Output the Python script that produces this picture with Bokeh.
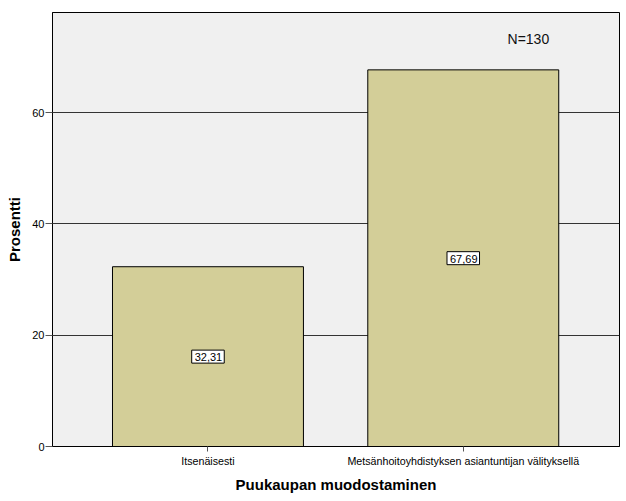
from bokeh.plotting import figure
from bokeh.models import ColumnDataSource, FixedTicker, Label, Range1d
from bokeh.core.properties import value
from bokeh.embed import file_html
from bokeh.resources import INLINE

categories = ["Itsenäisesti", "Metsänhoitoyhdistyksen asiantuntijan välityksellä"]
positions = [1, 2]
percent = [32.31, 67.69]
labels = ["32,31", "67,69"]
n_text = "N=130"

src = ColumnDataSource(dict(
    x=positions,
    top=percent,
    mid=[v / 2 for v in percent],
    lab=labels,
))

p = figure(width=620, height=495, output_backend="svg", toolbar_location=None,
           x_range=Range1d(0.391, 2.612), y_range=Range1d(0, 78.0),
           min_border_left=52, min_border_right=1, min_border_top=12, min_border_bottom=49)

p.background_fill_color = "#F0F0F0"
p.border_fill_color = "white"
p.outline_line_color = "black"
p.outline_line_width = 1

p.vbar(x="x", top="top", bottom=0, width=0.748, source=src,
       fill_color="#D3CE98", line_color="black", line_width=1)

p.xgrid.visible = False
p.ygrid.ticker = FixedTicker(ticks=[20, 40, 60])
p.ygrid.grid_line_color = "#333333"
p.ygrid.grid_line_width = 1
p.ygrid.level = "underlay"

p.xaxis.ticker = FixedTicker(ticks=positions)
p.xaxis.major_label_overrides = {pos: c for pos, c in zip(positions, categories)}
p.yaxis.ticker = FixedTicker(ticks=[0, 20, 40, 60])

for ax in (p.xaxis, p.yaxis):
    ax.axis_line_color = "black"
    ax.major_tick_line_color = "#555555"
    ax.major_tick_in = 0
    ax.major_tick_out = 7
    ax.minor_tick_line_color = None
    ax.major_label_text_font = "Liberation Sans"
    ax.major_label_text_font_size = "11px"
    ax.major_label_text_color = "black"
    ax.axis_label_text_font = "Liberation Sans"
    ax.axis_label_text_font_size = "15px"
    ax.axis_label_text_font_style = "bold"
    ax.axis_label_text_color = "black"

p.xaxis.major_tick_out = 5
p.xaxis.major_label_standoff = 3
p.xaxis.major_label_text_font_size = "10.7px"
p.xaxis.axis_label = "Puukaupan muodostaminen"
p.xaxis.axis_label_standoff = 6
p.yaxis.axis_label = "Prosentti"
p.yaxis.major_label_standoff = 1
p.yaxis.axis_label_standoff = 6

p.text(x="x", y="mid", text="lab", source=src,
       text_align="center", text_baseline="middle",
       text_font=value("Liberation Sans"), text_font_size="11px", text_color="black",
       background_fill_color="white", border_line_color="black", padding=(3, 2, 3, 2))

p.add_layout(Label(x=2.255, y=73.3, text=n_text,
                   text_align="center", text_baseline="middle",
                   text_font="Liberation Sans", text_font_size="14px", text_color="#111111"))

open("out.html", "w").write(file_html(p, INLINE))
